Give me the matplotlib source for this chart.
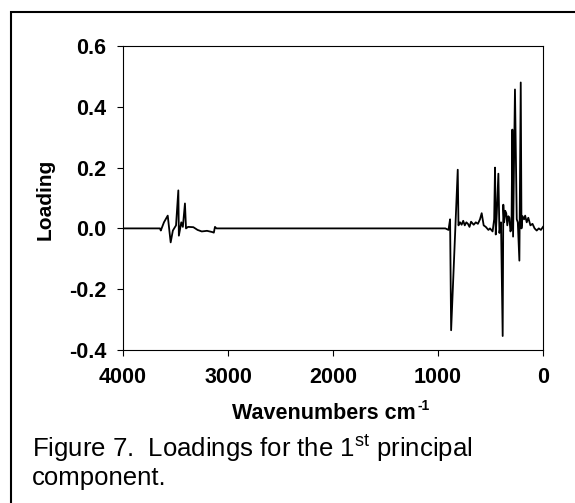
import matplotlib
matplotlib.use("Agg")
import matplotlib.pyplot as plt
from matplotlib.patches import Rectangle

plt.rcParams['font.family'] = ['Liberation Sans', 'DejaVu Sans']
plt.rcParams['mathtext.fontset'] = 'custom'
plt.rcParams['mathtext.rm'] = 'Liberation Sans'
plt.rcParams['mathtext.bf'] = 'Liberation Sans:bold'

# Wavenumbers (cm-1) and loadings
wavenumbers = [4000, 3660, 3648, 3640, 3610, 3574, 3546, 3525, 3495, 3473, 3468,
               3445, 3430, 3410, 3400, 3380, 3330, 3290, 3250, 3200, 3150, 3135,
               3124, 3110,
               930, 900, 885, 875, 812, 805, 790, 775, 760, 745, 730, 715, 700,
               685, 660, 640, 620, 600, 584, 565, 545, 520, 505, 480, 465, 457,
               450, 440, 425, 415, 400, 384, 378, 370, 360, 350, 340, 330, 320,
               310, 300, 292, 285, 267, 250, 240, 225, 212, 205, 195, 180, 170,
               155, 140, 120, 100, 80, 60, 40, 20, 0]
loadings = [0.0, 0.0, 0.0, -0.007, 0.02, 0.042, -0.046, -0.007, 0.01, 0.125, -0.024,
            0.02, 0.005, 0.082, 0.0, 0.005, 0.004, -0.005, -0.01, -0.008, -0.012, -0.014,
            0.005, 0.0,
            0.0, -0.005, 0.03, -0.335, 0.193, 0.01, 0.02, 0.012, 0.025, 0.01, 0.02, 0.015, 0.005,
            0.022, 0.012, 0.02, 0.015, 0.03, 0.05, 0.01, 0.005, -0.005, 0.0, -0.01, 0.03, 0.2,
            -0.02, 0.05, 0.18, -0.015, 0.02, -0.354, 0.078, 0.02, 0.058, 0.05, 0.01, 0.04, 0.035,
            -0.01, 0.0, 0.325, -0.027, 0.457, 0.03, 0.02, -0.106, 0.48, 0.0, 0.04, 0.03, 0.042,
            0.02, 0.035, 0.01, 0.015, 0.0, -0.007, 0.0, -0.005, 0.005]

x_ticks = [4000, 3000, 2000, 1000, 0]
y_ticks = [-0.4, -0.2, 0.0, 0.2, 0.4, 0.6]
y_tick_labels = ['-0.4', '-0.2', '0.0', '0.2', '0.4', '0.6']

W, H = 575, 503
fig = plt.figure(figsize=(W / 100, H / 100), dpi=100)
ax = fig.add_axes([123 / W, 1 - 350 / H, (543 - 123) / W, (350 - 46) / H])

ax.plot(wavenumbers, loadings, color='black', lw=1.3)
ax.set_xlim(4000, 0)
ax.set_ylim(-0.4, 0.6)
ax.set_xticks(x_ticks)
ax.set_xticklabels([str(t) for t in x_ticks])
ax.set_yticks(y_ticks)
ax.set_yticklabels(y_tick_labels)
ax.tick_params(direction='out', length=4, width=0.8, pad=8, labelsize=15.5, colors='black')
for lab in ax.get_xticklabels() + ax.get_yticklabels():
    lab.set_fontweight('bold')
for s in ax.spines.values():
    s.set_linewidth(0.8)
    s.set_color('black')

fig.text(416 / W, 1 - 419 / H, 'Wavenumbers cm', ha='right', va='baseline',
         fontsize=15.5, fontweight='bold')
fig.text(417 / W, 1 - 410 / H, '-1', ha='left', va='baseline',
         fontsize=10, fontweight='bold')
fig.text(45 / W, 1 - 199 / H, 'Loading', ha='center', va='center', rotation=90,
         fontsize=15, fontweight='bold')

fig.text(32 / W, 1 - 457 / H, r'Figure 7.  Loadings for the 1$^{\mathrm{st}}$ principal',
         ha='left', va='baseline', fontsize=18.5)
fig.text(32 / W, 1 - 485 / H, 'component.', ha='left', va='baseline', fontsize=18.5)

fig.patches.append(Rectangle((11 / W, -0.1), 1.2, 1 - 12 / H + 0.1, transform=fig.transFigure,
                             fill=False, edgecolor='black', lw=1.5))

fig.savefig('out.png', dpi=100)
